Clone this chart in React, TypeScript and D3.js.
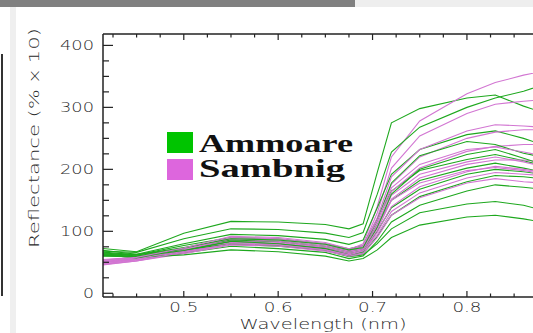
import * as d3 from "d3";
import React from "react";

// wavelength samples (nm)
const wavelengths = [0.41, 0.45, 0.5, 0.55, 0.6, 0.65, 0.675, 0.69, 0.705, 0.72, 0.75, 0.8, 0.83, 0.86, 0.88];

// Ammoare spectra (reflectance % x 10)
const ammoare = [
  [73, 67, 97, 116, 115, 111, 104, 112, 195, 275, 298, 315, 320, 302, 292],
  [68, 66, 88, 104, 103, 97, 90, 98, 160, 228, 268, 300, 315, 326, 336],
  [64, 63, 80, 95, 93, 87, 79, 86, 138, 192, 232, 256, 262, 250, 240],
  [62, 62, 77, 90, 88, 80, 72, 77, 120, 165, 198, 216, 224, 214, 206],
  [60, 60, 73, 86, 84, 76, 68, 72, 110, 150, 182, 202, 210, 202, 196],
  [66, 60, 70, 83, 80, 72, 64, 68, 100, 138, 168, 192, 200, 196, 192],
  [62, 58, 67, 79, 76, 70, 60, 64, 92, 126, 156, 180, 190, 188, 185],
  [63, 57, 65, 76, 72, 66, 56, 60, 84, 115, 142, 165, 175, 171, 168],
  [70, 63, 70, 80, 77, 69, 59, 62, 80, 104, 130, 144, 148, 142, 134],
  [65, 58, 62, 70, 67, 60, 52, 56, 70, 90, 110, 123, 126, 120, 115],
  [61, 59, 69, 84, 80, 72, 62, 67, 106, 160, 200, 224, 232, 218, 208],
  [67, 62, 74, 88, 86, 79, 70, 74, 118, 178, 222, 245, 240, 226, 220],
];

// Sambnig spectra (reflectance % x 10)
const sambnig = [
  [54, 58, 72, 88, 86, 78, 70, 80, 140, 220, 278, 322, 340, 352, 358],
  [52, 57, 70, 86, 84, 76, 68, 76, 130, 202, 254, 290, 305, 310, 312],
  [50, 55, 69, 85, 82, 74, 66, 72, 116, 176, 220, 250, 260, 264, 264],
  [51, 56, 70, 86, 83, 74, 66, 72, 112, 164, 202, 229, 237, 240, 240],
  [47, 54, 68, 84, 80, 72, 64, 70, 106, 152, 186, 208, 215, 215, 212],
  [49, 56, 70, 88, 84, 76, 68, 72, 110, 158, 192, 212, 220, 212, 205],
  [46, 52, 66, 80, 78, 70, 62, 66, 98, 140, 172, 196, 205, 200, 196],
  [50, 54, 68, 82, 80, 72, 64, 68, 94, 132, 162, 186, 195, 192, 190],
  [45, 52, 64, 78, 76, 68, 60, 64, 90, 126, 154, 178, 185, 180, 178],
  [48, 55, 70, 90, 88, 80, 70, 76, 122, 188, 232, 262, 272, 270, 268],
  [47, 53, 66, 80, 78, 70, 62, 68, 102, 150, 178, 198, 203, 198, 193],
  [53, 58, 73, 92, 90, 82, 72, 78, 118, 170, 208, 232, 236, 228, 222],
];

const xMajor = [0.5, 0.6, 0.7, 0.8];
const yMajor = [0, 100, 200, 300, 400];
const legendItems = ["Ammoare", "Sambnig"];

const GREEN = "#1ea81e";
const PINK = "#d276d2";

export default function App() {
  const left = 103;
  const top = 34;
  const bottom = 297;
  const right = 533;

  const x = d3.scaleLinear().domain([0.4144, 0.87]).range([left, right]);
  const y = d3.scaleLinear().domain([-6, 418.4]).range([bottom, top]);

  const line = d3
    .line<number>()
    .x((_, i) => x(wavelengths[i]))
    .y((d) => y(d));

  const xMinor = d3.range(0.425, 0.87, 0.025).filter((v) => !xMajor.some((m) => Math.abs(m - v) < 1e-6));
  const yMinor = d3.range(0, 418, 25).filter((v) => v % 100 !== 0);

  // interleave the two groups so neither sits fully on top
  const series: Array<{ values: number[]; color: string }> = [];
  for (let i = 0; i < Math.max(ammoare.length, sambnig.length); i++) {
    if (ammoare[i]) series.push({ values: ammoare[i], color: GREEN });
    if (sambnig[i]) series.push({ values: sambnig[i], color: PINK });
  }

  const tickColor = "#222";
  const labelColor = "#2a2a2a";

  return (
    <svg
      width={533}
      height={333}
      style={{ position: "absolute", left: 0, top: 0, background: "#fff" }}
    >
      {/* window chrome bits around the crop */}
      <rect x={0} y={0} width={355} height={7} fill="#808080" />
      <rect x={355} y={0} width={178} height={7} fill="#eeeeee" />
      <rect x={10} y={7} width={6} height={326} fill="#efefef" />
      <rect x={1} y={54} width={2} height={242} fill="#333" />

      <defs>
        <clipPath id="plot">
          <rect x={left} y={top} width={right - left} height={bottom - top} />
        </clipPath>
      </defs>

      <g clipPath="url(#plot)">
        {series.map((s, i) => (
          <path key={i} d={line(s.values) ?? ""} fill="none" stroke={s.color} strokeWidth={1.1} />
        ))}
      </g>

      {/* frame */}
      <g stroke={tickColor} strokeWidth={1.5} fill="none">
        <line x1={left} y1={top} x2={right} y2={top} />
        <line x1={left} y1={bottom} x2={right} y2={bottom} />
        <line x1={left} y1={top} x2={left} y2={bottom} />
      </g>

      {/* ticks on all visible sides */}
      <g stroke={tickColor} strokeWidth={1.2}>
        {xMajor.map((v) => (
          <g key={"xm" + v}>
            <line x1={x(v)} x2={x(v)} y1={bottom} y2={bottom - 6} />
            <line x1={x(v)} x2={x(v)} y1={top} y2={top + 6} />
          </g>
        ))}
        {xMinor.map((v) => (
          <g key={"xn" + v}>
            <line x1={x(v)} x2={x(v)} y1={bottom} y2={bottom - 3.5} />
            <line x1={x(v)} x2={x(v)} y1={top} y2={top + 3.5} />
          </g>
        ))}
        {yMajor.map((v) => (
          <line key={"ym" + v} x1={left} x2={left + 10} y1={y(v)} y2={y(v)} />
        ))}
        {yMinor.map((v) => (
          <line key={"yn" + v} x1={left} x2={left + 6} y1={y(v)} y2={y(v)} />
        ))}
      </g>

      {/* tick labels */}
      <g fill={labelColor} fontFamily="DejaVu Sans" fontWeight={200} fontSize={14}>
        {xMajor.map((v) => (
          <text key={"xl" + v} x={x(v)} y={312} textAnchor="middle" textLength={29} lengthAdjust="spacingAndGlyphs">
            {d3.format(".1f")(v)}
          </text>
        ))}
        {yMajor.map((v) => (
          <text
            key={"yl" + v}
            x={94}
            y={y(v) + 5}
            textAnchor="end"
            textLength={v === 0 ? 11 : 34}
            lengthAdjust="spacingAndGlyphs"
          >
            {v}
          </text>
        ))}
      </g>

      {/* axis titles */}
      <text
        x={323}
        y={329}
        textAnchor="middle"
        fill={labelColor}
        fontFamily="DejaVu Sans"
        fontWeight={200}
        fontSize={14}
        textLength={167}
        lengthAdjust="spacingAndGlyphs"
      >
        Wavelength (nm)
      </text>
      <text
        transform="translate(39,138) rotate(-90)"
        textAnchor="middle"
        fill={labelColor}
        fontFamily="DejaVu Sans"
        fontWeight={200}
        fontSize={14}
        textLength={220}
        lengthAdjust="spacingAndGlyphs"
      >
        Reflectance (% x 10)
      </text>

      {/* legend */}
      {legendItems.map((name, i) => (
        <g key={name}>
          <rect x={167} y={132 + i * 27} width={26} height={21} fill={i === 0 ? "#00c400" : "#dd66dd"} />
          <text
            x={199}
            y={152 + i * 25}
            fontFamily="Liberation Serif"
            fontWeight="bold"
            fontSize={25}
            fill="#111"
            textLength={i === 0 ? 154 : 146}
            lengthAdjust="spacingAndGlyphs"
          >
            {name}
          </text>
        </g>
      ))}
    </svg>
  );
}
